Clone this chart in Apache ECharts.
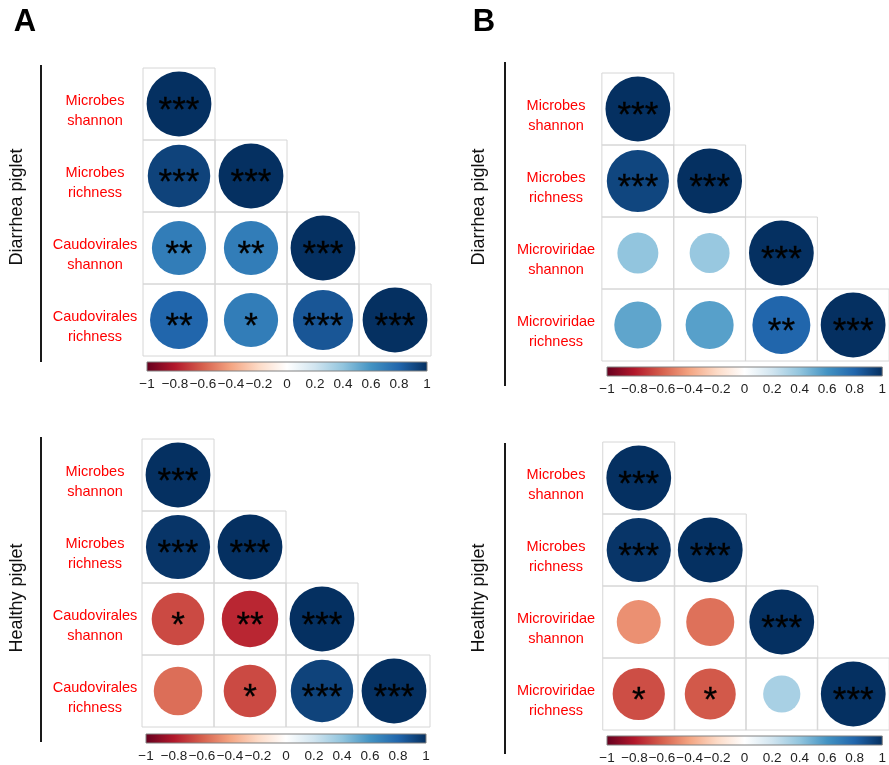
<!DOCTYPE html>
<html>
<head>
<meta charset="utf-8">
<script src="https://cdn.jsdelivr.net/npm/echarts@6/dist/echarts.min.js"></script>
<style>
  html, body { margin: 0; padding: 0; background: #fff; }
  #main { width: 889px; height: 765px; }
</style>
</head>
<body>
<div id="main"></div>
<script>
// row labels
const caudoLabels = ['Microbes\nshannon', 'Microbes\nrichness', 'Caudovirales\nshannon', 'Caudovirales\nrichness']
const microLabels = ['Microbes\nshannon', 'Microbes\nrichness', 'Microviridae\nshannon', 'Microviridae\nrichness']
const cellCols = ['1', '2', '3', '4']

// lower triangle correlations (row by row)
const corrDiarrheaCaudo = [[1], [0.93, 1], [0.70, 0.70, 1], [0.80, 0.70, 0.86, 1]]
const sigDiarrheaCaudo = [['***'], ['***', '***'], ['**', '**', '***'], ['**', '*', '***', '***']]

const corrHealthyCaudo = [[1], [0.98, 1], [-0.66, -0.76, 1], [-0.56, -0.66, 0.93, 1]]
const sigHealthyCaudo = [['***'], ['***', '***'], ['*', '**', '***'], ['', '*', '***', '***']]

const corrDiarrheaMicro = [[1], [0.92, 1], [0.40, 0.38, 1], [0.53, 0.55, 0.80, 1]]
const sigDiarrheaMicro = [['***'], ['***', '***'], ['', '', '***'], ['', '', '**', '***']]

const corrHealthyMicro = [[1], [0.98, 1], [-0.46, -0.55, 1], [-0.65, -0.62, 0.33, 1]]
const sigHealthyMicro = [['***'], ['***', '***'], ['', '', '***'], ['*', '*', '', '***']]

// colour bar
const colorbarRange = [-1, 1]
const rdbu = ['#67001F', '#B2182B', '#D6604D', '#F4A582', '#FDDBC7', '#FFFFFF',
  '#D1E5F0', '#92C5DE', '#4393C3', '#2166AC', '#053061']

const FONT = 'Liberation Sans, Arial, sans-serif'
const CELL = 72

const panels = [
  {corr: corrDiarrheaCaudo, sig: sigDiarrheaCaudo, labels: caudoLabels, left: 143, top: 68, margin: 48, barLeft: 147, barTop: 362},
  {corr: corrHealthyCaudo, sig: sigHealthyCaudo, labels: caudoLabels, left: 142, top: 439, margin: 47, barLeft: 146, barTop: 734},
  {corr: corrDiarrheaMicro, sig: sigDiarrheaMicro, labels: microLabels, left: 602, top: 73, margin: 46, barLeft: 607, barTop: 367},
  {corr: corrHealthyMicro, sig: sigHealthyMicro, labels: microLabels, left: 603, top: 442, margin: 47, barLeft: 607, barTop: 736},
]

const grid = [], xAxis = [], yAxis = [], series = []
const circleIdx = []

panels.forEach((p, k) => {
  grid.push({left: p.left, top: p.top, width: CELL * 4, height: CELL * 4})
  xAxis.push({type: 'category', gridIndex: k, data: cellCols, show: false})
  yAxis.push({
    type: 'category', gridIndex: k, data: p.labels, inverse: true,
    axisLine: {show: false}, axisTick: {show: false}, splitLine: {show: false},
    axisLabel: {
      align: 'center', margin: p.margin,
      // small spacer line pushes the two-line label a bit below the cell centre
      formatter: v => '{sp| }\n' + v.split('\n').map(s => '{l|' + s + '}').join('\n'),
      rich: {
        sp: {fontSize: 1, lineHeight: 13},
        l: {color: '#ff0000', fontFamily: FONT, fontSize: 14.5, lineHeight: 20, align: 'center'}
      }
    }
  })
  const pts = []
  p.corr.forEach((row, i) => row.forEach((v, j) => pts.push([j, i, v, p.sig[i][j]])))

  // cell frames
  series.push({
    type: 'scatter', xAxisIndex: k, yAxisIndex: k, symbol: 'rect', symbolSize: CELL,
    silent: true, z: 1,
    itemStyle: {color: 'rgba(0,0,0,0)', borderColor: '#d6d6d6', borderWidth: 1, opacity: 1},
    data: pts.map(d => [d[0], d[1]])
  })
  circleIdx.push(series.length)
  series.push({
    type: 'scatter', xAxisIndex: k, yAxisIndex: k, z: 2,
    symbol: 'circle',
    symbolSize: d => 0.9 * Math.sqrt(Math.abs(d[2])) * CELL,
    itemStyle: {opacity: 1},
    label: {
      show: true, position: 'inside', color: '#000', fontFamily: FONT, fontSize: 35,
      offset: [0, 7], textBorderColor: '#000', textBorderWidth: 0.3,
      formatter: prm => prm.data[3]
    },
    data: pts
  })
})

// colour bars
panels.forEach((p, k) => {
  const g = grid.length
  grid.push({left: p.barLeft, top: p.barTop, width: 280, height: 9, show: true,
    borderColor: '#808080', borderWidth: 1, backgroundColor: 'transparent', z: 5})
  xAxis.push({
    type: 'value', gridIndex: g, min: colorbarRange[0], max: colorbarRange[1], interval: 0.2,
    axisLine: {show: false}, axisTick: {show: false}, splitLine: {show: false},
    axisLabel: {
      color: '#222', fontFamily: FONT, fontSize: 13.5, margin: 6,
      formatter: v => String(Number(v.toFixed(1))).replace('-', '\u2212')
    }
  })
  yAxis.push({type: 'category', gridIndex: g, data: ['bar'], show: false})
  series.push({
    type: 'bar', xAxisIndex: g, yAxisIndex: g, stack: 'cb' + k, barWidth: '100%', silent: true,
    itemStyle: {color: new echarts.graphic.LinearGradient(0, 0, 1, 0,
      rdbu.slice(0, 6).map((c, i) => ({offset: i / 5, color: c})))},
    data: [colorbarRange[0]]
  })
  series.push({
    type: 'bar', xAxisIndex: g, yAxisIndex: g, stack: 'cb' + k, barWidth: '100%', silent: true,
    itemStyle: {color: new echarts.graphic.LinearGradient(0, 0, 1, 0,
      rdbu.slice(5).map((c, i) => ({offset: i / 5, color: c})))},
    data: [colorbarRange[1]]
  })
})

const vline = (x, y1, y2) => ({
  type: 'line', shape: {x1: x, y1: y1, x2: x, y2: y2},
  style: {stroke: '#1a1a1a', lineWidth: 2}
})
const vtext = (text, x, y) => ({
  type: 'text', x: x, y: y, rotation: Math.PI / 2,
  style: {text: text, textAlign: 'center', textVerticalAlign: 'middle',
    font: '18px ' + FONT, fill: '#111'}
})
const letter = (text, x, y) => ({
  type: 'text', x: x, y: y,
  style: {text: text, textAlign: 'center', textVerticalAlign: 'middle',
    font: 'bold 31px ' + FONT, fill: '#000'}
})

const option = {
  backgroundColor: '#fff',
  animation: false,
  grid, xAxis, yAxis, series,
  visualMap: {
    type: 'continuous', show: false, min: -1, max: 1, dimension: 2,
    seriesIndex: circleIdx, inRange: {color: rdbu}
  },
  graphic: [
    letter('A', 25, 22), letter('B', 484, 22),
    vline(41, 65, 362), vline(41, 437, 742), vline(505, 62, 386), vline(505, 443, 754),
    vtext('Diarrhea piglet', 17, 207), vtext('Healthy piglet', 17, 598),
    vtext('Diarrhea piglet', 479, 207), vtext('Healthy piglet', 479, 598)
  ]
}

const myChart = echarts.init(document.getElementById('main'))
myChart.setOption(option)
</script>
</body>
</html>
